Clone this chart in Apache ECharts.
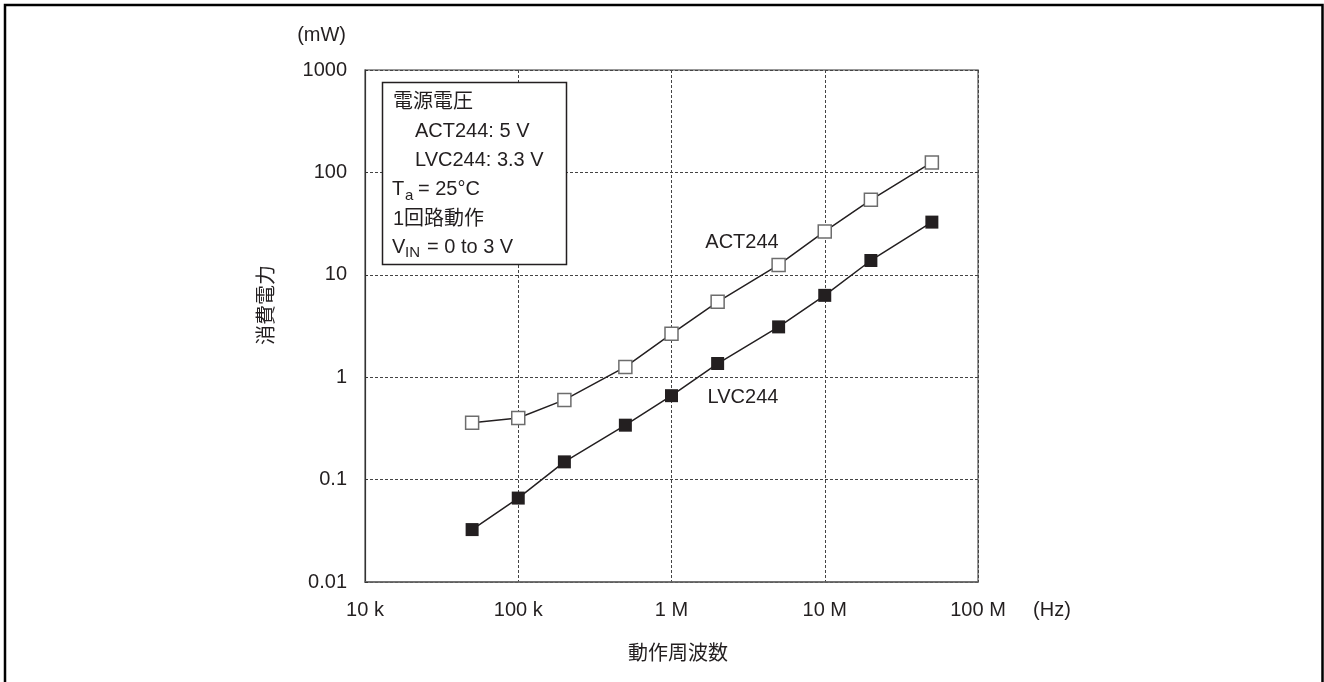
<!DOCTYPE html>
<html>
<head>
<meta charset="utf-8">
<script src="https://cdn.jsdelivr.net/npm/echarts@6/dist/echarts.min.js"></script>
<style>
html,body{margin:0;padding:0;background:#fff;}
#chart{width:1324px;height:682px;}
</style>
</head>
<body>
<div id="chart"></div>
<script>
// ---- data ----
var frequencies = [5e4, 1e5, 2e5, 5e5, 1e6, 2e6, 5e6, 1e7, 2e7, 5e7];
var act244 = [0.36, 0.40, 0.60, 1.26, 2.65, 5.45, 12.5, 26.5, 54, 125];
var lvc244 = [0.0325, 0.066, 0.149, 0.34, 0.66, 1.36, 3.1, 6.3, 13.8, 32.7];
var xTickValues = [1e4, 1e5, 1e6, 1e7, 1e8];
var xTickLabels = ['10 k', '100 k', '1 M', '10 M', '100 M'];
var yTickValues = [0.01, 0.1, 1, 10, 100, 1000];
var yTickLabels = ['0.01', '0.1', '1', '10', '100', '1000'];

var FONT = '"Liberation Sans", Arial, "Noto Sans CJK JP", sans-serif';
var INK = '#231f20';

function pairs(xs, ys) { return xs.map(function (x, i) { return [x, ys[i]]; }); }
function lookup(values, labels, v) {
  var e = Math.round(Math.log10(v));
  for (var i = 0; i < values.length; i++) {
    if (Math.round(Math.log10(values[i])) === e) return labels[i];
  }
  return '';
}

var chart = echarts.init(document.getElementById('chart'), null, {renderer: 'canvas'});
var txt = function (text, x, y, opts) {
  opts = opts || {};
  return {
    type: 'text', x: x, y: y, z: 100,
    rotation: opts.rotation || 0,
    style: {
      text: text, fill: INK, font: (opts.size || 20) + 'px ' + FONT,
      align: opts.align || 'left', verticalAlign: 'middle'
    }
  };
};

var option = {
  backgroundColor: '#fff',
  animation: false,
  grid: {
    left: 365, right: 346, top: 70, bottom: 100,
    show: true, borderColor: '#777', borderWidth: 1.5, backgroundColor: 'transparent'
  },
  xAxis: {
    type: 'log', logBase: 10, min: 1e4, max: 1e8,
    axisLine: {show: true, onZero: false, lineStyle: {color: '#666', width: 1.5}},
    axisTick: {show: false},
    axisLabel: {
      margin: 18, fontSize: 20, lineHeight: 20, color: INK, fontFamily: FONT,
      formatter: function (v) { return lookup(xTickValues, xTickLabels, v); }
    },
    splitLine: {show: true, lineStyle: {color: '#444', width: 1, type: [3, 2]}},
    minorTick: {show: false}, minorSplitLine: {show: false}
  },
  yAxis: {
    type: 'log', logBase: 10, min: 0.01, max: 1000,
    axisLine: {show: true, onZero: false, lineStyle: {color: '#333', width: 1.2}},
    axisTick: {show: true, inside: true, length: 3, lineStyle: {color: '#333'}},
    axisLabel: {
      margin: 18, fontSize: 20, color: INK, fontFamily: FONT,
      formatter: function (v) { return lookup(yTickValues, yTickLabels, v); }
    },
    splitLine: {show: true, lineStyle: {color: '#444', width: 1, type: [3, 2]}}
  },
  series: [
    {
      name: 'ACT244', type: 'line', data: pairs(frequencies, act244),
      symbol: 'rect', symbolSize: 13, z: 3,
      lineStyle: {color: INK, width: 1.5},
      itemStyle: {color: '#fff', borderColor: '#6d6d6d', borderWidth: 1.5}
    },
    {
      name: 'LVC244', type: 'line', data: pairs(frequencies, lvc244),
      symbol: 'rect', symbolSize: 13, z: 3,
      lineStyle: {color: INK, width: 1.5},
      itemStyle: {color: INK, borderColor: INK, borderWidth: 0}
    }
  ],
  graphic: [
    // outer frame
    {type: 'polyline', z: 100, shape: {points: [[5, 682], [5, 5], [1322.5, 5], [1322.5, 682]]},
     style: {stroke: '#000', lineWidth: 2.5, fill: null}},
    // condition box
    {type: 'rect', z: 90, shape: {x: 382.5, y: 82.5, width: 184, height: 182},
     style: {fill: '#fff', stroke: INK, lineWidth: 1.5}},
    txt('電源電圧', 393, 102),
    txt('ACT244: 5 V', 415, 131),
    txt('LVC244: 3.3 V', 415, 160),
    txt('T', 392, 189),
    txt('a', 405, 196, {size: 15}),
    txt('= 25°C', 418, 189),
    txt('1回路動作', 393, 219),
    txt('V', 392, 247),
    txt('IN', 405, 253, {size: 15}),
    txt('= 0 to 3 V', 427, 247),
    // series labels
    txt('ACT244', 742, 242, {align: 'center'}),
    txt('LVC244', 743, 397, {align: 'center'}),
    // units and axis names
    txt('(mW)', 346, 35, {align: 'right'}),
    txt('(Hz)', 1052, 610, {align: 'center'}),
    txt('動作周波数', 678, 654, {align: 'center'}),
    txt('消費電力', 267, 305, {align: 'center', rotation: Math.PI / 2})
  ]
};
chart.setOption(option);
</script>
</body>
</html>
